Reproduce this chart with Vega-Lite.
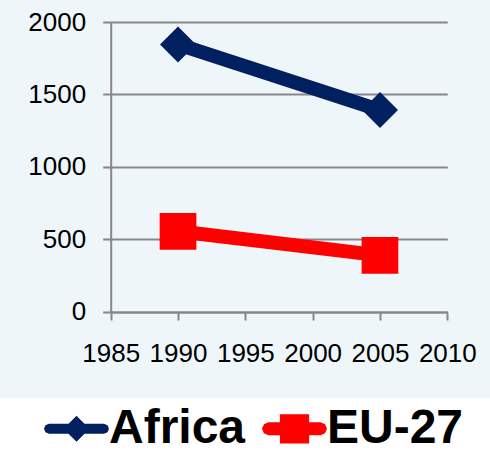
{
  "$schema": "https://vega.github.io/schema/vega-lite/v6.json",
  "width": 490,
  "height": 398,
  "padding": 0,
  "autosize": {"type": "pad"},
  "background": "white",
  "config": {
    "view": {"fill": "#EEF6FA", "stroke": null},
    "font": "Liberation Sans",
    "axis": {"labelFont": "Liberation Sans", "labelColor": "#000000"},
    "legend": {
      "orient": "none", "legendX": 44, "legendY": 396, "direction": "horizontal",
      "symbolSize": 4225, "symbolOpacity": 1, "symbolStrokeWidth": 0,
      "labelFontSize": 48, "labelFontWeight": "bold", "labelFont": "Liberation Sans", "labelColor": "#000000",
      "labelOffset": 0, "columnPadding": 16, "padding": 0, "labelLimit": 400
    }
  },
  "data": {
    "values": [
      {"year": 1990, "value": 1845, "series": "Africa"},
      {"year": 2005, "value": 1392, "series": "Africa"},
      {"year": 1990, "value": 555, "series": "EU-27"},
      {"year": 2005, "value": 389, "series": "EU-27"}
    ]
  },
  "encoding": {
    "x": {
      "field": "year", "type": "quantitative",
      "scale": {"domain": [1985, 2010], "range": [110.7, 447.3], "nice": false, "zero": false},
      "axis": {
        "values": [1985, 1990, 1995, 2000, 2005, 2010], "format": "d", "title": null,
        "offset": -86, "grid": false, "tickSize": 8, "tickWidth": 2, "tickColor": "#878787",
        "domainColor": "#878787", "domainWidth": 2, "labelFontSize": 26, "labelPadding": 20,
        "labelFlush": false, "labelOverlap": false
      }
    },
    "y": {
      "field": "value", "type": "quantitative",
      "scale": {"domain": [0, 2000], "range": [311.7, 22], "nice": false},
      "axis": {
        "values": [0, 500, 1000, 1500, 2000], "format": "d", "title": null,
        "offset": -110.7, "grid": true, "gridColor": "#878787", "gridWidth": 2,
        "tickSize": 8, "tickWidth": 2, "tickColor": "#878787",
        "domainColor": "#878787", "domainWidth": 2, "labelFontSize": 26, "labelPadding": 17,
        "labelFlush": false, "labelOverlap": false
      }
    }
  },
  "layer": [
    {
      "mark": {"type": "line", "strokeWidth": 14},
      "encoding": {
        "color": {"field": "series", "type": "nominal", "title": null,
          "scale": {"domain": ["Africa", "EU-27"], "range": ["#002060", "#FF0000"]}}
      }
    },
    {
      "transform": [{"filter": "datum.series === 'Africa'"}],
      "mark": {"type": "point", "shape": "diamond", "filled": true, "size": 1296, "opacity": 1},
      "encoding": {
        "color": {"field": "series", "type": "nominal", "title": null}
      }
    },
    {
      "transform": [{"filter": "datum.series === 'EU-27'"}],
      "mark": {"type": "point", "shape": "square", "filled": true, "size": 1347, "opacity": 1},
      "encoding": {
        "color": {"field": "series", "type": "nominal", "title": null}
      }
    },
    {
      "mark": {"type": "point", "filled": true, "opacity": 0, "size": 10},
      "encoding": {
        "color": {"field": "series", "type": "nominal", "title": null},
        "shape": {"field": "series", "type": "nominal", "title": null,
          "scale": {"domain": ["Africa", "EU-27"], "range": [
            "M-0.846,-0.154L0.846,-0.154L0.955,-0.109L1,0L0.955,0.109L0.846,0.154L-0.846,0.154L-0.955,0.109L-1,0L-0.955,-0.109ZM0,-0.4L0.4,0L0,0.4L-0.4,0Z",
            "M-0.8,-0.2L0.8,-0.2L0.941,-0.141L1,0L0.941,0.141L0.8,0.2L-0.8,0.2L-0.941,0.141L-1,0L-0.941,-0.141ZM-0.45,-0.45L0.45,-0.45L0.45,0.45L-0.45,0.45Z"
          ]}}
      }
    }
  ]
}
